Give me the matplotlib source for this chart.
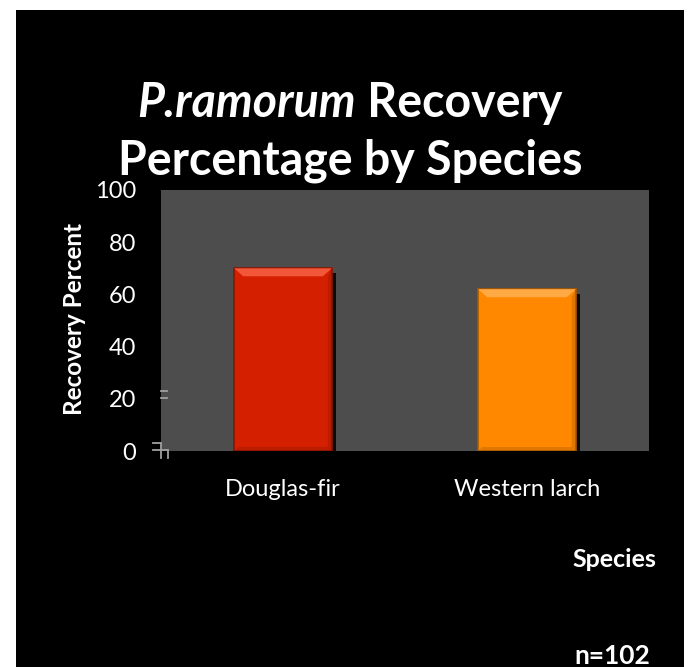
import matplotlib
matplotlib.use("Agg")
import matplotlib.pyplot as plt
from matplotlib.patches import Rectangle, Polygon
from matplotlib.lines import Line2D
import numpy as np

# recovery data
species = ["Douglas-fir", "Western larch"]
recovery = [70, 62]
bar_colors = ["#D42000", "#FF8800"]
top_colors = ["#F2573A", "#FFAA45"]
edge_colors = ["#8A1500", "#A85800"]
yticks = [0, 20, 40, 60, 80, 100]

plt.rcParams["font.family"] = ["Lato", "DejaVu Sans"]

W, H = 688, 667
fig = plt.figure(figsize=(W / 100, H / 100), dpi=100, facecolor="white")

# black slide background
fig.patches.append(Rectangle((16 / W, 0), (684 - 16) / W, (H - 10) / H,
                             transform=fig.transFigure, facecolor="black",
                             edgecolor="none", zorder=-10))

ax = fig.add_axes([161 / W, (H - 451) / H, (649 - 161) / W, (451 - 190) / H])
ax.set_zorder(5)
ax.set_facecolor("#4D4D4D")
for s in ax.spines.values():
    s.set_visible(False)

x = np.arange(len(species))
ax.set_xlim(-0.5, len(species) - 0.5)
ax.set_ylim(0, 100)
width = 0.40

# pixel -> data scale for the bevel/shadow details
px_x = 1.0 / 244
px_y = 100.0 / 261

for xi, v, c, tc, ec in zip(x, recovery, bar_colors, top_colors, edge_colors):
    left = xi - width / 2
    # drop shadow on the right
    ax.add_patch(Rectangle((left + 4 * px_x, 0), width, v - 5 * px_y,
                           facecolor="black", edgecolor="none", alpha=0.85, zorder=1))
    ax.bar(xi, v, width=width, color=c, edgecolor=ec, linewidth=1.2, zorder=2)
    # bevelled top face
    bev_x, bev_y = 9 * px_x, 8 * px_y
    ax.add_patch(Polygon([(left, v), (left + width, v),
                          (left + width - bev_x, v - bev_y), (left + bev_x, v - bev_y)],
                         closed=True, facecolor=tc, edgecolor="none", zorder=3))
    # darker side and bottom bevels
    ax.add_patch(Polygon([(left + width, v), (left + width, 0),
                          (left + width - 4 * px_x, 4 * px_y), (left + width - 4 * px_x, v - bev_y)],
                         closed=True, facecolor=ec, edgecolor="none", alpha=0.35, zorder=3))
    ax.add_patch(Polygon([(left, 0), (left + width, 0),
                          (left + width - 4 * px_x, 4 * px_y), (left + 4 * px_x, 4 * px_y)],
                         closed=True, facecolor=ec, edgecolor="none", alpha=0.35, zorder=3))

ax.set_xticks(x)
ax.set_xticklabels(species, color="white", fontsize=17)
ax.set_yticks(yticks)
ax.set_yticklabels([str(t) for t in yticks], color="white", fontsize=17)
ax.tick_params(axis="both", length=0)
ax.tick_params(axis="y", pad=18)
ax.tick_params(axis="x", pad=20)

# stray grey glyph fragments at the left edge of the plot area
def pxline(xs, ys):
    fig.add_artist(Line2D([v / W for v in xs], [(H - v) / H for v in ys],
                          color="#A0A0A0", lw=1.3, zorder=10))

pxline([161, 167], [391, 391])
pxline([161, 167], [398, 398])
pxline([153, 160], [443, 443])
pxline([153, 168], [450, 450])
pxline([161, 161], [443, 458])
pxline([168, 168], [450, 458])

# title: italic genus name + bold text, centred on the slide
renderer = fig.canvas.get_renderer()
cx = 350 / W
t1a = fig.text(0, 0, "P.ramorum", fontsize=33.5, fontweight="bold", fontstyle="italic",
               color="white", va="baseline")
t1b = fig.text(0, 0, " Recovery", fontsize=33.5, fontweight="bold",
               color="white", va="baseline")
wa = t1a.get_window_extent(renderer).width / W
wb = t1b.get_window_extent(renderer).width / W
x0 = cx - (wa + wb) / 2
t1a.set_position((x0, (H - 117) / H))
t1b.set_position((x0 + wa, (H - 117) / H))
fig.text(cx, (H - 174) / H, "Percentage by Species", fontsize=33.5, fontweight="bold",
         color="white", ha="center", va="baseline")

fig.text(75 / W, (H - 319) / H, "Recovery Percent", fontsize=17.5, fontweight="bold",
         color="white", rotation=90, ha="center", va="center")
fig.text(614 / W, (H - 567) / H, "Species", fontsize=18, fontweight="bold",
         color="white", ha="center", va="baseline")
fig.text(612 / W, (H - 664) / H, "n=102", fontsize=19, fontweight="bold",
         color="white", ha="center", va="baseline")

fig.savefig("out.png", dpi=100, facecolor="white")
